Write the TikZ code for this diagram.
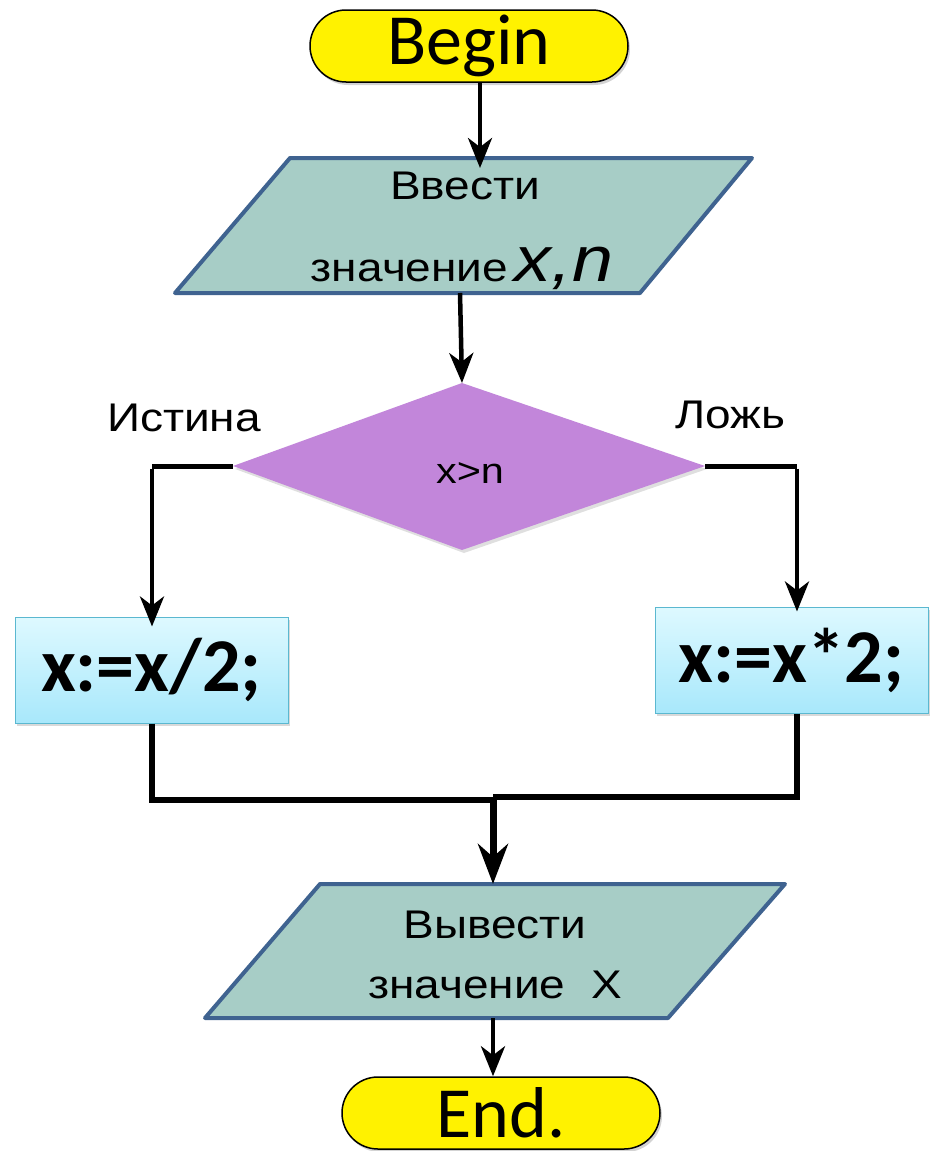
\documentclass[tikz,border=0pt]{standalone}
\usepackage{fontspec}
\setmainfont{Liberation Sans}
\newfontfamily\widesans[FakeStretch=1.15]{Liberation Sans}
\newfontfamily\calib{Carlito}
\usetikzlibrary{arrows.meta,shadows}
\definecolor{paraFill}{HTML}{A7CDC6}
\definecolor{paraDraw}{HTML}{3F6390}
\definecolor{diaFill}{HTML}{C286DA}
\definecolor{boxTop}{HTML}{DEF9FF}
\definecolor{boxBot}{HTML}{A8E8FB}
\definecolor{boxDraw}{HTML}{5BB8D0}
\tikzset{
  term/.style={draw=black, line width=1.5pt, fill=yellow, minimum width=318pt, minimum height=72pt,
    rounded corners=36pt, inner sep=0pt, font=\calib\fontsize{72}{72}\selectfont,
    drop shadow={opacity=0.35, shadow xshift=2pt, shadow yshift=-3pt}},
  para/.style={draw=paraDraw, line width=4pt, fill=paraFill, line join=round},
  ptext/.style={font=\widesans\fontsize{40}{40}\selectfont, inner sep=0pt},
  actbox/.style={draw=boxDraw, line width=1pt, top color=boxTop, bottom color=boxBot,
    minimum width=273pt, minimum height=106pt, inner sep=0pt,
    font=\calib\bfseries\fontsize{76}{76}\selectfont,
    drop shadow={opacity=0.3, shadow xshift=2pt, shadow yshift=-3pt}},
  flow/.style={line width=4.5pt, -{Stealth[length=30pt, width=24pt, inset=9pt]}},
  bigflow/.style={line width=7pt, -{Stealth[length=40pt, width=30pt, inset=13pt]}},
  conn/.style={line width=5pt, line join=miter},
  lbl/.style={font=\widesans\fontsize{40}{40}\selectfont, inner sep=0pt}
}
\begin{document}
\begin{tikzpicture}[x=1pt,y=-1pt]
\useasboundingbox (0,0) rectangle (929,1151);

% Begin
\node[term] (begin) at (469,46) {Begin};

% input parallelogram
\coordinate (inTL) at (290,158);
\coordinate (inTR) at (752,158);
\coordinate (inBR) at (640,293);
\coordinate (inBL) at (175,293);
\draw[para] (inTL) -- (inTR) -- (inBR) -- (inBL) -- cycle;
\coordinate (inTop) at (480,158);
\coordinate (inBot) at (460,293);
\node[ptext] (in1) at (465,186) {Ввести};
\node[ptext, anchor=base] (in2) at (462,281) {значение\,{\fontsize{64}{64}\selectfont\itshape x,n}};

% decision
\coordinate (dTop) at (462,383);
\coordinate (dRight) at (705,466);
\coordinate (dBot) at (462,550);
\coordinate (dLeft) at (233,466);
\fill[diaFill, drop shadow={opacity=0.25, shadow xshift=2pt, shadow yshift=-3pt}] (dTop) -- (dRight) -- (dBot) -- (dLeft) -- cycle;
\node[font=\widesans\fontsize{36}{36}\selectfont, inner sep=0pt] (cond) at (470,473) {x>n};
\node[lbl] (ltrue) at (184,418) {Истина};
\node[lbl] (lfalse) at (730,415) {Ложь};

% action boxes
\node[actbox] (left) at (151.5,670) {x:=x/2;};
\node[actbox] (right) at (791.5,660) {x:=x*2;};

% output parallelogram
\coordinate (outTL) at (320,884);
\coordinate (outTR) at (785,884);
\coordinate (outBR) at (668,1018);
\coordinate (outBL) at (205,1018);
\draw[para] (outTL) -- (outTR) -- (outBR) -- (outBL) -- cycle;
\coordinate (outTop) at (493,884);
\coordinate (outBot) at (493,1018);
\node[ptext] (out1) at (495,925) {Вывести};
\node[ptext] (out2) at (495,985) {значение\ \ X};

% End
\node[term] (end) at (501,1113) {End.};

% connectors
\draw[flow, line width=4pt] (begin.south -| inTop) -- ([yshift=-10pt]inTop);
\draw[flow] (inBot) -- (dTop);
\coordinate (lc) at (152,466);
\coordinate (rc) at (797,466);
\draw[conn] (dLeft) -- (lc);
\draw[flow] ([yshift=-2.5pt]lc) -- ([yshift=-10pt]left.north -| lc);
\draw[conn] (dRight) -- (rc);
\draw[flow] ([yshift=-2.5pt]rc) -- ([yshift=-5pt]right.north -| rc);
\coordinate (lm) at (152,800);
\coordinate (rm) at (797,797);
\coordinate (mm) at (493,797);
\draw[conn, line width=6pt] (left.south -| lm) -- (lm) -- (493,800);
\draw[conn, line width=6pt] (right.south -| rm) -- (rm) -- (mm);
\draw[bigflow] ([yshift=-3pt]mm) -- (outTop);
\draw[flow] (outBot) -- (end.north -| outBot);
\end{tikzpicture}
\end{document}
